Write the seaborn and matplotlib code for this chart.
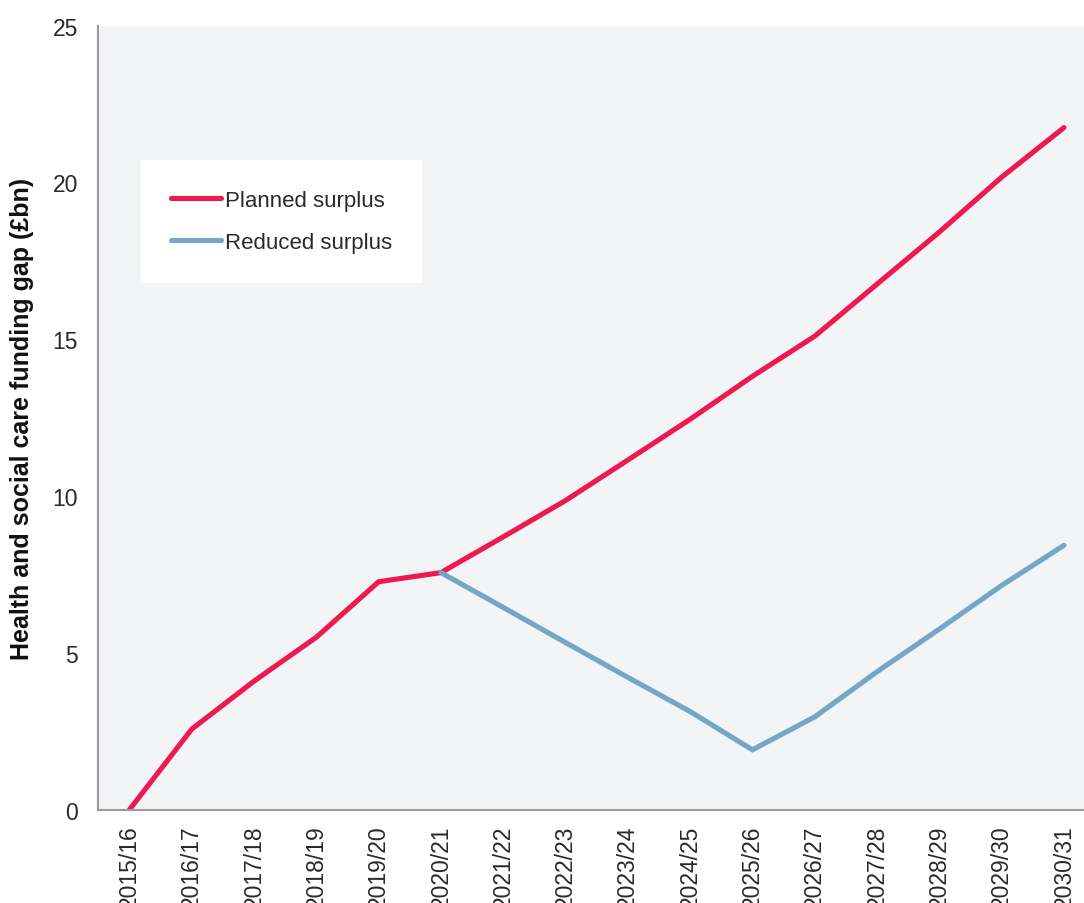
import numpy as np
import pandas as pd
import matplotlib
matplotlib.use("Agg")
import matplotlib.pyplot as plt
import seaborn as sns

years = ["2015/16", "2016/17", "2017/18", "2018/19", "2019/20", "2020/21",
         "2021/22", "2022/23", "2023/24", "2024/25", "2025/26", "2026/27",
         "2027/28", "2028/29", "2029/30", "2030/31"]
planned = [0.0, 2.57, 4.10, 5.50, 7.27, 7.56, 8.70, 9.86, 11.15, 12.45,
           13.82, 15.10, 16.76, 18.42, 20.17, 21.75]
reduced_years = years[5:]
reduced = [7.56, 6.45, 5.33, 4.22, 3.13, 1.91, 2.96, 4.40, 5.76, 7.15, 8.43]
series_names = ["Planned surplus", "Reduced surplus"]
y_label = "Health and social care funding gap (£bn)"

df = pd.concat([
    pd.DataFrame({"year": years, "value": planned, "series": series_names[0]}),
    pd.DataFrame({"year": reduced_years, "value": reduced, "series": series_names[1]}),
], ignore_index=True)
df["year"] = pd.Categorical(df["year"], categories=years, ordered=True)
df["xpos"] = df["year"].cat.codes

sns.set_style("white")
plt.rcParams["font.family"] = ["Liberation Sans", "DejaVu Sans"]

RED = "#EC1A4F"
BLUE = "#74A6C6"
GRAY = "#9a9a9a"
TXT = "#2a2a2a"

fig = plt.figure(figsize=(10.84, 9.04), dpi=100)
ax = fig.add_axes([98.3 / 1084, (904 - 810.7) / 904, 996.8 / 1084, 784.0 / 904])
ax.set_facecolor("#F3F4F6")

sns.lineplot(data=df, x="xpos", y="value", hue="series", sort=False,
             palette={series_names[0]: RED, series_names[1]: BLUE},
             hue_order=series_names, linewidth=3.7, ax=ax, legend=True)
for ln in ax.lines:
    ln.set_solid_capstyle("round")
    ln.set_solid_joinstyle("miter")

ax.set_xlim(-0.5, len(years) - 0.5)
ax.set_ylim(0, 25)
ax.set_yticks([0, 5, 10, 15, 20, 25])
ax.set_xticks(range(len(years)))
ax.set_xticklabels(years, rotation=90)
ax.set_xticks(np.arange(-0.5, len(years), 1.0), minor=True)
ax.tick_params(axis="x", which="major", length=0, pad=10.5, labelsize=16.5,
               labelcolor=TXT)
ax.tick_params(axis="x", which="minor", length=4.7, width=1.2, color=GRAY,
               direction="out")
ax.tick_params(axis="y", which="major", length=4.7, width=1.2, color=GRAY,
               direction="out", pad=10, labelsize=16.5, labelcolor=TXT)
ax.set_xlabel("")
ax.set_ylabel(y_label, fontsize=18, fontweight="bold", color="#111111")
ax.yaxis.set_label_coords((34 - 98.3) / 996.8, 0.5)

for s in ["top", "right"]:
    ax.spines[s].set_visible(False)
for s in ["left", "bottom"]:
    ax.spines[s].set_color(GRAY)
    ax.spines[s].set_linewidth(1.5)

handles, labels = ax.get_legend_handles_labels()
leg = ax.legend(handles, labels, loc="upper left",
                bbox_to_anchor=((141 - 98.3) / 996.8, (810.7 - 161) / 784.0),
                borderaxespad=0, frameon=True, fancybox=False, facecolor="white",
                edgecolor="white", framealpha=1, fontsize=16, borderpad=1.33,
                labelspacing=0.95, handlelength=2.25, handletextpad=0.18)
for h in leg.get_lines():
    h.set_linewidth(3.7)
    h.set_solid_capstyle("round")
for t in leg.get_texts():
    t.set_color(TXT)

fig.savefig("out.png", dpi=100, facecolor="white")
